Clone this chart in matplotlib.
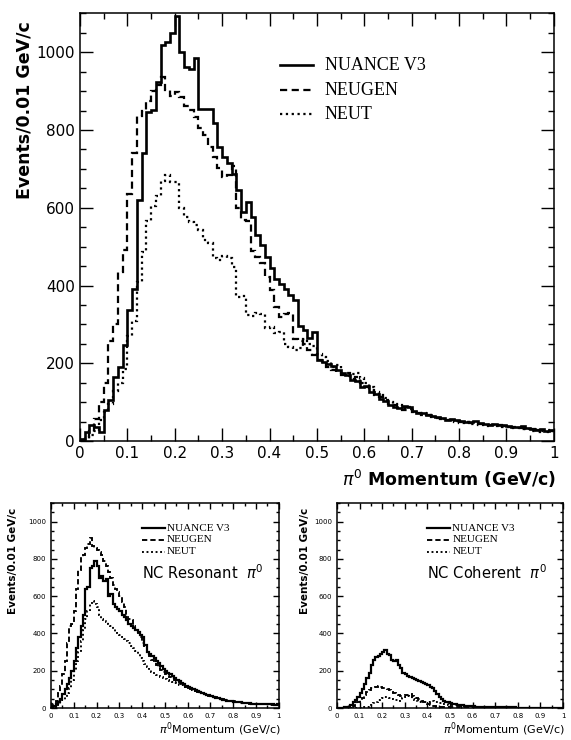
import numpy as np
import matplotlib
matplotlib.use("Agg")
import matplotlib.pyplot as plt
from matplotlib.ticker import MultipleLocator

# bin edges: 100 bins of 0.01 GeV/c
edges = np.arange(101) * 0.01

labels = ["NUANCE V3", "NEUGEN", "NEUT"]

# --- total NC pi0 (top panel) ---
nuance_all = [4, 23, 40, 36, 23, 80, 106, 165, 190, 247,
              338, 391, 620, 742, 845, 851, 924, 1018, 1026, 1050,
              1092, 1001, 962, 958, 984, 853, 853, 855, 817, 757,
              731, 714, 688, 646, 590, 614, 575, 530, 504, 474,
              444, 418, 405, 390, 375, 364, 296, 285, 265, 281,
              208, 204, 198, 194, 183, 174, 170, 157, 155, 140,
              142, 127, 120, 109, 104, 92, 88, 84, 90, 88,
              76, 71, 72, 67, 64, 63, 60, 54, 56, 54,
              52, 50, 50, 51, 46, 44, 41, 44, 40, 41,
              38, 37, 36, 39, 34, 30, 28, 32, 27, 28]
neugen_all = [2, 10, 25, 57, 100, 150, 257, 300, 434, 492,
              635, 742, 837, 850, 875, 900, 915, 935, 902, 887,
              898, 886, 861, 851, 834, 804, 787, 757, 731, 701,
              679, 683, 708, 600, 569, 566, 490, 474, 457, 423,
              388, 345, 320, 328, 330, 262, 258, 250, 234, 221,
              208, 200, 191, 183, 178, 170, 175, 160, 165, 150,
              140, 132, 118, 112, 105, 95, 92, 85, 80, 82,
              75, 72, 68, 66, 62, 60, 57, 55, 53, 52,
              50, 49, 47, 46, 44, 43, 42, 40, 40, 38,
              37, 36, 34, 33, 32, 30, 24, 29, 28, 27]
neut_all = [0, 5, 15, 25, 53, 74, 95, 129, 150, 185,
            270, 308, 410, 485, 566, 605, 630, 668, 684, 665,
            666, 600, 577, 564, 555, 543, 517, 509, 470, 465,
            475, 470, 448, 370, 372, 325, 322, 330, 328, 290,
            292, 278, 280, 250, 243, 234, 240, 262, 250, 245,
            225, 215, 205, 190, 195, 175, 168, 172, 175, 162,
            148, 140, 125, 118, 110, 100, 96, 92, 85, 88,
            80, 75, 72, 68, 62, 60, 56, 54, 52, 50,
            46, 48, 45, 44, 42, 40, 38, 40, 38, 36,
            35, 33, 34, 32, 30, 25, 28, 26, 24, 25]

# --- NC resonant pi0 ---
nuance_res = [3, 12, 20, 35, 50, 75, 100, 130, 160, 200,
              250, 320, 380, 440, 500, 640, 650, 750, 760, 790,
              760, 700, 710, 680, 690, 600, 610, 560, 540, 530,
              520, 500, 490, 470, 450, 440, 430, 420, 410, 390,
              380, 340, 300, 290, 280, 270, 250, 240, 225, 210,
              200, 190, 185, 170, 160, 150, 145, 135, 128, 120,
              115, 108, 100, 95, 90, 85, 80, 75, 72, 68,
              65, 60, 55, 52, 48, 45, 42, 40, 38, 36,
              35, 33, 30, 30, 28, 27, 25, 26, 24, 23,
              22, 22, 21, 20, 22, 20, 19, 21, 18, 20]
neugen_res = [5, 20, 40, 80, 120, 180, 250, 350, 440, 450,
              520, 640, 740, 810, 820, 860, 880, 910, 870, 860,
              850, 840, 820, 790, 760, 730, 700, 660, 640, 620,
              600, 570, 540, 500, 480, 470, 440, 420, 400, 380,
              350, 330, 300, 280, 260, 245, 230, 215, 205, 195,
              185, 175, 168, 160, 150, 145, 138, 130, 122, 115,
              110, 104, 98, 92, 86, 82, 78, 73, 70, 66,
              62, 58, 54, 50, 47, 44, 41, 39, 37, 35,
              33, 32, 30, 28, 27, 26, 25, 24, 23, 22,
              22, 21, 20, 20, 19, 20, 18, 19, 17, 18]
neut_res = [0, 5, 10, 20, 30, 45, 60, 80, 110, 150,
            200, 250, 300, 360, 420, 480, 520, 560, 575, 560,
            540, 500, 480, 470, 460, 450, 440, 425, 410, 400,
            390, 380, 370, 360, 350, 335, 320, 305, 290, 270,
            250, 235, 220, 205, 195, 185, 178, 170, 165, 160,
            155, 150, 145, 140, 135, 130, 126, 122, 118, 112,
            108, 102, 97, 92, 87, 83, 79, 75, 71, 68,
            64, 60, 57, 53, 50, 47, 44, 42, 40, 38,
            36, 34, 32, 30, 29, 28, 26, 25, 24, 23,
            22, 21, 21, 20, 19, 19, 18, 18, 17, 17]

# --- NC coherent pi0 ---
nuance_coh = [0, 0, 2, 3, 5, 8, 15, 30, 45, 60,
              80, 100, 130, 160, 190, 230, 260, 275, 280, 290,
              300, 310, 290, 285, 260, 255, 260, 230, 215, 190,
              180, 172, 168, 160, 155, 150, 145, 140, 135, 130,
              125, 115, 110, 90, 75, 60, 50, 40, 35, 30,
              25, 22, 20, 18, 15, 14, 12, 12, 10, 10,
              10, 8, 8, 7, 6, 6, 5, 5, 5, 5,
              4, 4, 4, 3, 3, 3, 3, 3, 3, 2,
              2, 2, 2, 2, 2, 2, 2, 2, 2, 2,
              2, 2, 2, 2, 2, 2, 2, 2, 2, 2]
neugen_coh = [0, 0, 0, 1, 2, 3, 5, 10, 20, 30,
              45, 55, 70, 85, 95, 105, 110, 115, 120, 115,
              110, 105, 100, 95, 88, 80, 75, 70, 65, 65,
              70, 72, 75, 65, 60, 55, 48, 40, 30, 25,
              20, 15, 12, 10, 8, 7, 6, 5, 5, 4,
              4, 3, 3, 3, 2, 2, 2, 2, 2, 2,
              2, 2, 1, 1, 1, 1, 1, 1, 1, 1,
              1, 1, 1, 1, 1, 1, 1, 1, 1, 1,
              1, 1, 1, 1, 1, 1, 1, 1, 1, 1,
              1, 1, 1, 1, 1, 1, 1, 1, 1, 1]
neut_coh = [0, 0, 0, 0, 0, 0, 0, 0, 0, 1,
            2, 3, 5, 8, 12, 18, 25, 35, 42, 50,
            55, 58, 60, 55, 50, 45, 42, 40, 45, 55,
            60, 65, 60, 50, 45, 40, 35, 32, 30, 32,
            35, 38, 40, 35, 30, 28, 25, 22, 20, 18,
            16, 15, 14, 13, 12, 11, 10, 9, 8, 8,
            7, 7, 6, 6, 5, 5, 5, 4, 4, 4,
            3, 3, 3, 3, 3, 2, 2, 2, 2, 2,
            2, 2, 2, 2, 2, 2, 2, 2, 2, 2,
            2, 2, 2, 2, 2, 2, 2, 2, 2, 2]


def style_axes(ax, major_len, minor_len, tick_fs):
    ax.set_xlim(0, 1)
    ax.set_ylim(0, 1100)
    ax.xaxis.set_major_locator(MultipleLocator(0.1))
    ax.xaxis.set_minor_locator(MultipleLocator(0.05))
    ax.yaxis.set_major_locator(MultipleLocator(200))
    ax.yaxis.set_minor_locator(MultipleLocator(50))
    ax.tick_params(which='both', direction='in', top=True, right=True,
                   labeltop=False, labelright=False, width=1.0)
    ax.tick_params(which='major', length=major_len, labelsize=tick_fs)
    ax.tick_params(which='minor', length=minor_len)
    ax.set_xticks(np.arange(11) * 0.1)
    ax.set_xticklabels(['0', '0.1', '0.2', '0.3', '0.4', '0.5', '0.6',
                        '0.7', '0.8', '0.9', '1'])
    for s in ax.spines.values():
        s.set_linewidth(1.1)


def draw_hists(ax, series, lw, dash, dot):
    styles = [dict(linestyle='-', linewidth=lw),
              dict(linestyle=(0, dash), linewidth=lw * 0.85),
              dict(linestyle=(0, dot), linewidth=lw * 0.85)]
    for vals, st in zip(series, styles):
        ax.stairs(vals, edges, color='black', baseline=None, **st)
    return styles


def draw_legend(ax, styles, x0, x1, xt, ys, fs):
    for st, lab, y in zip(styles, labels, ys):
        ax.plot([x0, x1], [y, y], transform=ax.transAxes, color='black', **st)
        ax.text(xt, y, lab, transform=ax.transAxes, va='center', ha='left',
                fontsize=fs, family='Liberation Serif')


fig = plt.figure(figsize=(5.71, 7.40), dpi=100)

# top panel
ax = fig.add_axes([0.140, 0.404, 0.830, 0.578])
style_axes(ax, 9.5, 4.5, 11)
st = draw_hists(ax, [nuance_all, neugen_all, neut_all], 1.9, (3.2, 2.0), (1.0, 1.6))
draw_legend(ax, st, 0.422, 0.492, 0.517, [0.879, 0.820, 0.764], 13)
ax.set_ylabel('Events/0.01 GeV/c', fontsize=12.5, fontweight='bold')
ax.yaxis.set_label_coords(-0.098, 0.773)
ax.set_xlabel(r'$\pi^0$ Momentum (GeV/c)', fontsize=12.5, fontweight='bold', loc='right')
ax.xaxis.set_label_coords(1.006, -0.062)

# bottom panels
small = [([0.0893, 0.0432, 0.399, 0.277], [nuance_res, neugen_res, neut_res],
          'NC Resonant  $\\pi^0$', -0.145),
         ([0.590, 0.0432, 0.396, 0.277], [nuance_coh, neugen_coh, neut_coh],
          'NC Coherent  $\\pi^0$', -0.12)]
for rect, series, title, ylx in small:
    a = fig.add_axes(rect)
    style_axes(a, 4.5, 2.2, 5)
    st = draw_hists(a, series, 1.6, (2.8, 1.6), (1.0, 1.4))
    draw_legend(a, st, 0.40, 0.50, 0.51, [0.878, 0.820, 0.762], 8)
    a.text(0.40, 0.66, title, transform=a.transAxes, fontsize=10.5, va='center',
           ha='left', family='DejaVu Sans')
    a.set_ylabel('Events/0.01 GeV/c', fontsize=7.5, fontweight='bold')
    a.yaxis.set_label_coords(ylx, 0.72)
    a.set_xlabel(r'$\pi^0$Momentum (GeV/c)', fontsize=8, loc='right')
    a.xaxis.set_label_coords(1.01, -0.06)

fig.savefig('out.png', dpi=100)
